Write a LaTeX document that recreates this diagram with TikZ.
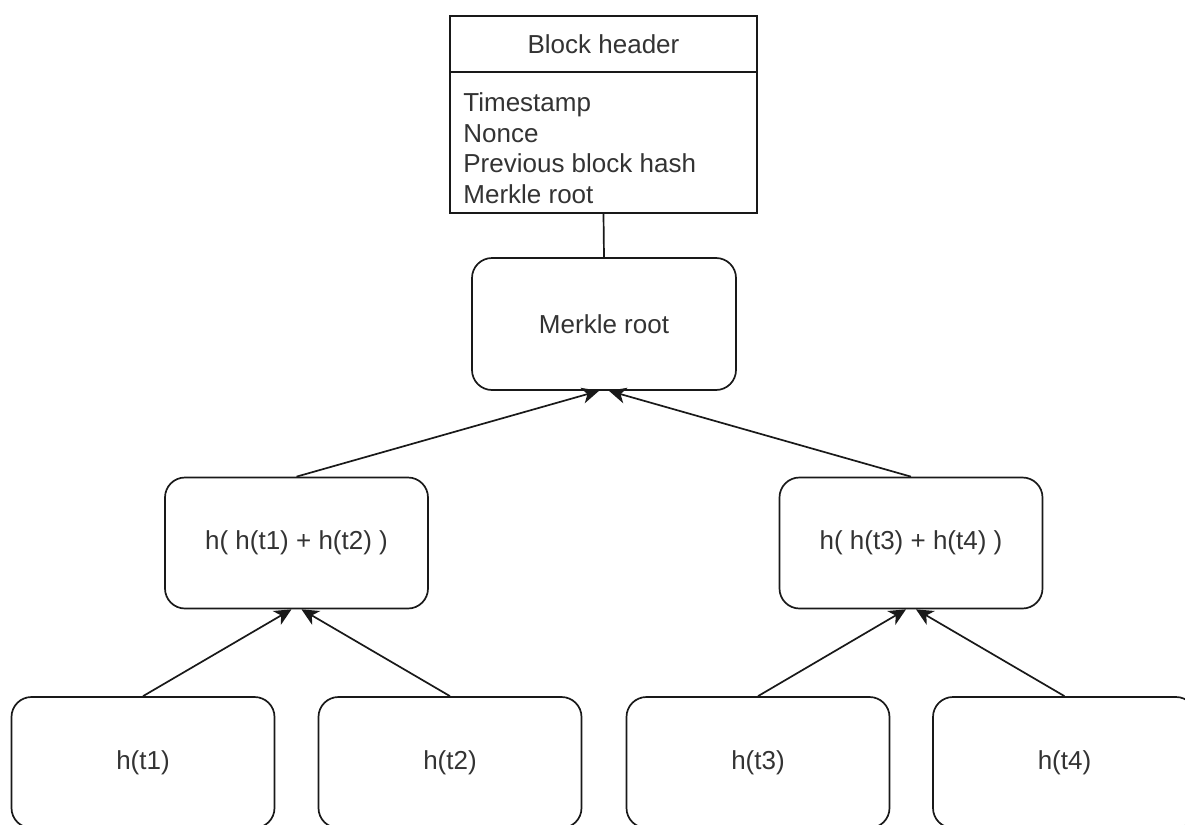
\documentclass[tikz,border=0pt]{standalone}
\usepackage{fontspec}
\setmainfont{Liberation Sans}
\usetikzlibrary{arrows.meta}
\begin{document}
\begin{tikzpicture}[x=0.5pt,y=-0.5pt,
  txt/.style={font=\fontsize{13}{15.5}\selectfont, text=black!80},
  box/.style={txt, draw=black!90, line width=0.85pt, rounded corners=10pt,
    minimum width=131.5pt, minimum height=65.5pt, inner sep=0pt},
  hdrbox/.style={draw=black!90, line width=0.85pt, minimum width=153.5pt,
    minimum height=98.5pt, inner sep=0pt},
  lbl/.style={txt, inner sep=0pt},
  link/.style={draw=black!90, line width=0.85pt},
  arr/.style={link, -{Stealth[length=8.5pt,width=8pt,inset=2.5pt]}}]
\useasboundingbox (0,0) rectangle (1185,825);
\clip (0,0) rectangle (1185,825);
% block header
\node[hdrbox] (hdr) at (603.5,114.5) {};
\coordinate (divy) at (0,72);
\draw[link] (hdr.west |- divy) -- (hdr.east |- divy);
\node[lbl] (hdrtitle) at (603.5,44) {Block header};
\node[lbl, anchor=base west] (l1) at (463,111) {Timestamp};
\node[lbl, anchor=base west] (l2) at (463,142) {Nonce};
\node[lbl, anchor=base west] (l3) at (463,172) {Previous block hash};
\node[lbl, anchor=base west] (l4) at (463,203) {Merkle root};
% tree
\node[box, minimum width=132pt, minimum height=66pt] (mr) at (604,324) {Merkle root};
\node[box] (m1) at (296.5,543) {h( h(t1) + h(t2) )};
\node[box] (m2) at (911,543) {h( h(t3) + h(t4) )};
\node[box] (b1) at (143,762.5) {h(t1)};
\node[box] (b2) at (450,762.5) {h(t2)};
\node[box] (b3) at (758,762.5) {h(t3)};
\node[box] (b4) at (1064.5,762.5) {h(t4)};
% connectors
\draw[link] (hdr.south) -- (mr.north);
\draw[arr] (m1.north) -- ([xshift=-2.5pt]mr.south);
\draw[arr] (m2.north) -- ([xshift=2.5pt]mr.south);
\draw[arr] (b1.north) -- ([xshift=-2.5pt]m1.south);
\draw[arr] (b2.north) -- ([xshift=2.5pt]m1.south);
\draw[arr] (b3.north) -- ([xshift=-2.5pt]m2.south);
\draw[arr] (b4.north) -- ([xshift=2.5pt]m2.south);
\end{tikzpicture}
\end{document}
